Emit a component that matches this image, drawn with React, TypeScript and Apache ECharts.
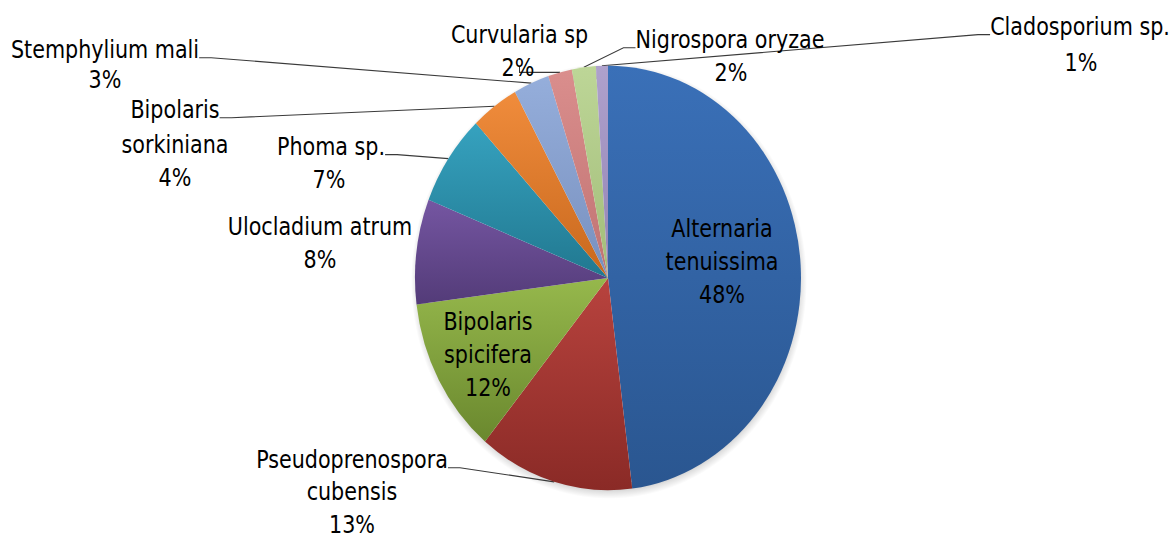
import React, { useEffect, useRef } from 'react';
import * as echarts from 'echarts';

const names = [
  'Alternaria\ntenuissima',
  'Pseudoprenospora\ncubensis',
  'Bipolaris\nspicifera',
  'Ulocladium atrum',
  'Phoma sp.',
  'Bipolaris\nsorkiniana',
  'Stemphylium mali',
  'Curvularia sp',
  'Nigrospora oryzae',
  'Cladosporium sp.',
];
const values = [48, 13, 12, 8, 7, 4, 3, 2, 2, 1];
const topColors = ['#3A70B8', '#B8433E', '#96B84C', '#7556A2', '#36A2BF', '#F08C3C', '#95AEDB', '#DA8E8D', '#BDD697', '#AEA1CC'];
const bottomColors = ['#2A5690', '#8A2A26', '#6A882E', '#533B78', '#217890', '#C8681D', '#7890BE', '#C07372', '#A2BC79', '#9484B4'];

// label layout (chart pixel space, before the vertical stretch)
// for slices with a leader line, the first text line carries the leader,
// the remaining lines are placed separately below it
const showLeader = [false, true, false, false, true, true, true, true, true, true];
const insideLabel = [true, false, true, false, false, false, false, false, false, false];
const LINE_H = 30;
const GAP_H = 14; // empty spacer under the leader-carrying line, so the leader meets it near its baseline
const SHIFT = GAP_H / 2;
const textCenters = [
  [722, 237.7],
  [352, 418.2],
  [488, 322.3],
  [320, 221],
  [331, 133.6],
  [175, 100],
  [105, 45.5],
  [519.5, 31.8],
  [730, 36.4],
  [1080, 24.5],
];
const restCenters = [
  [0, 0],
  [352, 462],
  [0, 0],
  [0, 0],
  [329, 163.6],
  [175, 146.8],
  [105, 72.7],
  [518, 61.8],
  [731, 66.4],
  [1081, 57.3],
];

const FONT = "'DejaVu Sans Condensed', 'Liberation Sans Narrow', 'DejaVu Sans', sans-serif";
const CENTER = [608, 252.7];
const RADIUS = 193;
const SHADOW_CENTER = [609, 255.5];
const SHADOW_INNER = 184;
const SHADOW_OUTER = 198;

const mainText = (i: number) => {
  if (!showLeader[i]) return `${names[i]}\n${values[i]}%`;
  return `{a|${names[i].split('\n')[0]}}\n{g|}`;
};
const restText = (i: number) => {
  const parts = names[i].split('\n').slice(1);
  parts.push(`${values[i]}%`);
  return parts.join('\n');
};

export default function App() {
  const ref = useRef<HTMLDivElement>(null);
  useEffect(() => {
    if (!ref.current) return;
    const chart = echarts.init(ref.current, undefined, { renderer: 'svg' });
    const textStyle = {
      color: '#000000',
      fontSize: 23,
      lineHeight: LINE_H,
      fontFamily: FONT,
      align: 'center',
    };
    const mainData = values.map((v, i) => ({
      name: names[i],
      value: v,
      itemStyle: {
        color: new echarts.graphic.LinearGradient(0, 0, 0, 1, [
          { offset: 0, color: topColors[i] },
          { offset: 1, color: bottomColors[i] },
        ]),
      },
      label: { position: insideLabel[i] ? 'inside' : 'outside' },
      labelLine: { show: showLeader[i] },
    }));
    const restData = values.map((v, i) => ({
      name: names[i],
      value: v,
      label: { show: showLeader[i] },
    }));
    const k = SHADOW_INNER / SHADOW_OUTER;
    chart.setOption({
      animation: false,
      backgroundColor: '#ffffff',
      series: [
        {
          // soft shadow ring under the pie edge (gradient, no filter)
          type: 'pie',
          center: SHADOW_CENTER,
          radius: [SHADOW_INNER, SHADOW_OUTER],
          silent: true,
          z: 1,
          data: [{ value: 1, name: 'shadow' }],
          itemStyle: {
            color: new echarts.graphic.RadialGradient(0.5, 0.5, 0.5, [
              { offset: k, color: 'rgba(0,0,0,0.32)' },
              { offset: k + (1 - k) * 0.55, color: 'rgba(0,0,0,0.12)' },
              { offset: 1, color: 'rgba(0,0,0,0)' },
            ]),
          },
          label: { show: false },
          labelLine: { show: false },
          emphasis: { disabled: true },
        },
        {
          type: 'pie',
          center: CENTER,
          radius: RADIUS,
          startAngle: 90,
          clockwise: true,
          z: 2,
          avoidLabelOverlap: false,
          data: mainData,
          label: {
            show: true,
            formatter: (p: any) => mainText(p.dataIndex),
            ...textStyle,
            rich: {
              a: { ...textStyle },
              g: { fontSize: 1, lineHeight: GAP_H, fontFamily: FONT },
            },
          },
          labelLine: {
            show: true,
            length: 10,
            length2: 12,
            lineStyle: { color: '#3a3a3a', width: 1 },
          },
          labelLayout: (params: any) => {
            const i = params.dataIndex;
            const c = textCenters[i];
            return {
              x: c[0],
              y: showLeader[i] ? c[1] + SHIFT : c[1],
              align: 'center',
              verticalAlign: 'middle',
            };
          },
          emphasis: { disabled: true },
        },
        {
          type: 'pie',
          center: CENTER,
          radius: RADIUS,
          startAngle: 90,
          clockwise: true,
          silent: true,
          z: 3,
          avoidLabelOverlap: false,
          data: restData,
          itemStyle: { color: 'rgba(0,0,0,0)' },
          label: {
            show: true,
            position: 'outside',
            formatter: (p: any) => restText(p.dataIndex),
            ...textStyle,
          },
          labelLine: { show: false },
          labelLayout: (params: any) => {
            const c = restCenters[params.dataIndex];
            return { x: c[0], y: c[1], align: 'center', verticalAlign: 'middle' };
          },
          emphasis: { disabled: true },
        },
      ],
    });
    return () => chart.dispose();
  }, []);
  return (
    <div
      ref={ref}
      style={{
        position: 'absolute',
        left: 0,
        top: 0,
        width: 1171,
        height: 489,
        transform: 'scaleY(1.1)',
        transformOrigin: '0 0',
      }}
    />
  );
}
